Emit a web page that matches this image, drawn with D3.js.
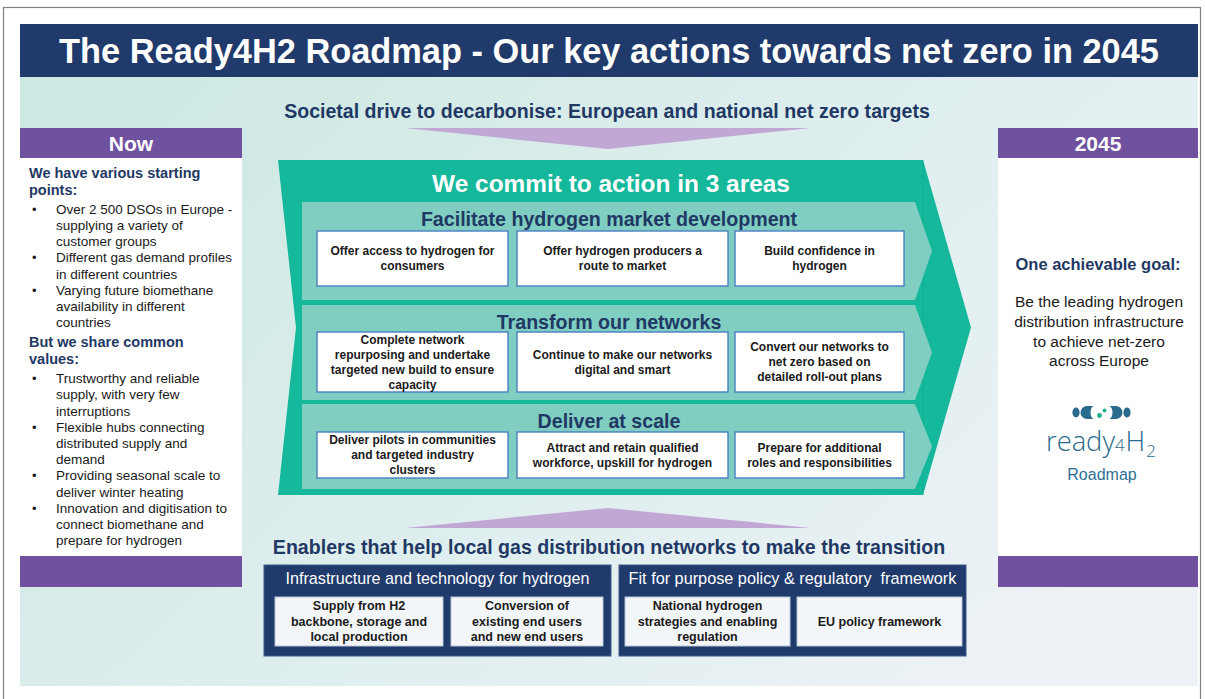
<!DOCTYPE html>
<html><head><meta charset="utf-8">
<script src="https://cdn.jsdelivr.net/npm/d3@7"></script>
<style>html,body{margin:0;padding:0;background:#fff;overflow:hidden}svg{display:block;font-family:"Liberation Sans",Arial,sans-serif}</style>
</head><body><svg id="c" width="1205" height="699"></svg>
<script>
// ---------- content ----------
const title = "The Ready4H2 Roadmap - Our key actions towards net zero in 2045";
const driver = "Societal drive to decarbonise: European and national net zero targets";
const commitment = "We commit to action in 3 areas";
const areas = ["Facilitate hydrogen market development", "Transform our networks", "Deliver at scale"];
const actions = [
  ["Offer access to hydrogen for\nconsumers", "Offer hydrogen producers a\nroute to market", "Build confidence in\nhydrogen"],
  ["Complete network\nrepurposing and undertake\ntargeted new build to ensure\ncapacity", "Continue to make our networks\ndigital and smart", "Convert our networks to\nnet zero based on\ndetailed roll-out plans"],
  ["Deliver pilots in communities\nand targeted industry\nclusters", "Attract and retain qualified\nworkforce, upskill for hydrogen", "Prepare for additional\nroles and responsibilities"]
];
const enablersTitle = "Enablers that help local gas distribution networks to make the transition";
const enablerGroups = ["Infrastructure and technology for hydrogen", "Fit for purpose policy & regulatory  framework"];
const enablerItems = [
  ["Supply from H2\nbackbone, storage and\nlocal production", "Conversion of\nexisting end users\nand new end users"],
  ["National hydrogen\nstrategies and enabling\nregulation", "EU policy framework"]
];
const nowLabel = "Now";
const goalLabel = "2045";
const startHeading = "We have various starting\npoints:";
const startPoints = ["Over 2 500 DSOs in Europe -\nsupplying a variety of\ncustomer groups", "Different gas demand profiles\nin different countries", "Varying future biomethane\navailability in different\ncountries"];
const valuesHeading = "But we share common\nvalues:";
const valuePoints = ["Trustworthy and reliable\nsupply, with very few\ninterruptions", "Flexible hubs connecting\ndistributed supply and\ndemand", "Providing seasonal scale to\ndeliver winter heating", "Innovation and digitisation to\nconnect biomethane and\nprepare for hydrogen"];
const goalHeading = "One achievable goal:";
const goalText = "Be the leading hydrogen\ndistribution infrastructure\nto achieve net-zero\nacross Europe";
const logoParts = ["ready", "4", "H", "2"];
const logoSub = "Roadmap";

// ---------- style ----------
const NAVY = "#1f3a6b", NAVYTXT = "#1f3864", PURPLE = "#7051a0", LILAC = "#c1a8d4",
      TEAL = "#15b89b", BAND = "#7fcec1", BOXBORDER = "#4a7fc0", DARK = "#1a1a1a";

const svg = d3.select("#c");
const defs = svg.append("defs");
const grad = defs.append("linearGradient").attr("id", "bg").attr("x1", "0").attr("y1", "0.2").attr("x2", "1").attr("y2", "0.8");
grad.append("stop").attr("offset", "0").attr("stop-color", "#cce8e2");
grad.append("stop").attr("offset", "0.5").attr("stop-color", "#deeeee");
grad.append("stop").attr("offset", "1").attr("stop-color", "#eef2f7");

function block(g, str, x, cy, o) {
  const lines = str.split("\n");
  const lh = o.lh || o.size * 1.25;
  const t = g.append("text")
    .attr("font-size", o.size)
    .attr("font-weight", o.weight || "normal")
    .attr("fill", o.fill || DARK)
    .attr("text-anchor", o.anchor || "middle")
    .style("white-space", "pre")
    .style("font-family", o.family || null);
  lines.forEach((l, i) => t.append("tspan")
    .attr("x", x)
    .attr("y", cy + (i - (lines.length - 1) / 2) * lh)
    .attr("dy", "0.35em").text(l));
  if (o.fit) {
    const w = t.node().getBBox().width;
    t.attr("font-size", o.size * o.fit / w);
  }
  return t;
}

// page frame
svg.append("rect").attr("x", 3.5).attr("y", 7.5).attr("width", 1197).attr("height", 720)
  .attr("fill", "#fff").attr("stroke", "#808080").attr("stroke-width", 1.2);
// main background
svg.append("rect").attr("x", 20).attr("y", 24).attr("width", 1178).attr("height", 662).attr("fill", "url(#bg)");
// title bar
svg.append("rect").attr("x", 20).attr("y", 24).attr("width", 1178).attr("height", 53).attr("fill", NAVY);
block(svg, title, 609, 51, {size: 34, weight: "bold", fill: "#fff", fit: 1100});

// driver text + down arrow
block(svg, driver, 607, 111, {size: 19, weight: "bold", fill: NAVYTXT, fit: 646});
const xMid = d3.scaleLinear().domain([0, 1]).range([405, 811]);
svg.append("path").attr("fill", LILAC)
  .attr("d", d3.line()([[xMid(0), 128], [xMid(1), 128], [xMid(0.5), 149]]) + "Z");

// ---------- big teal arrow ----------
const arrow = {x0: 278, x1: 923, tip: 971, y0: 160, y1: 495, notch: 296};
const ym = (arrow.y0 + arrow.y1) / 2;
svg.append("path").attr("fill", TEAL).attr("d", d3.line()([
  [arrow.x0, arrow.y0], [arrow.x1, arrow.y0], [arrow.tip, ym], [arrow.x1, arrow.y1],
  [arrow.x0, arrow.y1], [arrow.notch, ym]]) + "Z");
svg.append("line").attr("x1", arrow.x1).attr("x2", arrow.x1).attr("y1", arrow.y0).attr("y2", arrow.y1)
  .attr("stroke", "#0fa78b").attr("stroke-width", 1).attr("opacity", 0.6);
block(svg, commitment, 611, 183, {size: 24, weight: "bold", fill: "#fff", fit: 358});

// area bands
const bandTop = [202, 305, 404], bandBot = [300, 400, 489];
const headY = [219, 322, 421], headW = [377, 225, 143];
const boxTop = [231, 332, 432], boxBot = [286, 392, 478];
const colX0 = [317, 517, 735], colX1 = [508, 728, 904];
const bandX0 = 302, bandX1 = 915, bandTip = 932;
areas.forEach((a, i) => {
  const g = svg.append("g");
  const m = (bandTop[i] + bandBot[i]) / 2;
  g.append("path").attr("fill", BAND).attr("d", d3.line()([
    [bandX0, bandTop[i]], [bandX1, bandTop[i]], [bandTip, m], [bandX1, bandBot[i]], [bandX0, bandBot[i]]]) + "Z");
  block(g, a, 609, headY[i], {size: 19.5, weight: "bold", fill: NAVYTXT, fit: headW[i]});
  actions[i].forEach((t, j) => {
    g.append("rect").attr("x", colX0[j]).attr("y", boxTop[i])
      .attr("width", colX1[j] - colX0[j]).attr("height", boxBot[i] - boxTop[i])
      .attr("fill", "#fff").attr("stroke", BOXBORDER).attr("stroke-width", 1.4);
    block(g, t, (colX0[j] + colX1[j]) / 2, (boxTop[i] + boxBot[i]) / 2, {size: 12, weight: "bold", fill: DARK, lh: 15});
  });
});

// up arrow + enablers
svg.append("path").attr("fill", LILAC)
  .attr("d", d3.line()([[xMid(0), 528], [xMid(1), 528], [xMid(0.5), 508]]) + "Z");
block(svg, enablersTitle, 609, 547, {size: 19.5, weight: "bold", fill: NAVYTXT, fit: 673});
const grpX0 = [264, 619], grpX1 = [611, 966];
const itemX0 = [[275, 451], [625, 797]], itemX1 = [[443, 603], [790, 962]];
enablerGroups.forEach((gname, i) => {
  const g = svg.append("g");
  g.append("rect").attr("x", grpX0[i]).attr("y", 565).attr("width", grpX1[i] - grpX0[i]).attr("height", 91)
    .attr("fill", NAVY).attr("stroke", "#3b5a8a").attr("stroke-width", 1);
  block(g, gname, (grpX0[i] + grpX1[i]) / 2, 578, {size: 14.5, fill: "#fff", fit: i === 0 ? 304 : 329});
  enablerItems[i].forEach((t, j) => {
    g.append("rect").attr("x", itemX0[i][j]).attr("y", 597).attr("width", itemX1[i][j] - itemX0[i][j]).attr("height", 49)
      .attr("fill", "#f3f6f9").attr("stroke", "#b7c6d8").attr("stroke-width", 1);
    block(g, t, (itemX0[i][j] + itemX1[i][j]) / 2, 621.5, {size: 12.5, weight: "bold", fill: DARK, lh: 15.5});
  });
});

// ---------- left column ----------
const left = svg.append("g");
left.append("rect").attr("x", 20).attr("y", 158).attr("width", 222).attr("height", 398).attr("fill", "#fff");
left.append("rect").attr("x", 20).attr("y", 128).attr("width", 222).attr("height", 30).attr("fill", PURPLE);
left.append("rect").attr("x", 20).attr("y", 556).attr("width", 222).attr("height", 31).attr("fill", PURPLE);
block(left, nowLabel, 131, 144, {size: 21, weight: "bold", fill: "#fff"});

let yc = 173;
function section(head, points) {
  const hl = head.split("\n");
  block(left, head, 29, yc + (hl.length - 1) * 17 / 2, {size: 14.5, weight: "bold", fill: NAVYTXT, anchor: "start", lh: 17});
  yc += (hl.length - 1) * 17 + 19;
  points.forEach(p => {
    const pl = p.split("\n");
    const c = yc + (pl.length - 1) * 16.2 / 2;
    block(left, "•", 32, yc, {size: 13, fill: DARK, anchor: "start"});
    block(left, p, 56, c, {size: 13.5, fill: DARK, anchor: "start", lh: 16.2});
    yc += pl.length * 16.2;
  });
  yc += 20 - 16.2;
}
section(startHeading, startPoints);
section(valuesHeading, valuePoints);

// ---------- right column ----------
const right = svg.append("g");
right.append("rect").attr("x", 998).attr("y", 158).attr("width", 200).attr("height", 398).attr("fill", "#fff");
right.append("rect").attr("x", 998).attr("y", 128).attr("width", 200).attr("height", 30).attr("fill", PURPLE);
right.append("rect").attr("x", 998).attr("y", 556).attr("width", 200).attr("height", 31).attr("fill", PURPLE);
block(right, goalLabel, 1098, 144, {size: 21, weight: "bold", fill: "#fff"});
block(right, goalHeading, 1098, 264, {size: 16.5, weight: "bold", fill: NAVYTXT});
block(right, goalText, 1099, 331.5, {size: 15.5, fill: DARK, lh: 19.7});

// logo
const LOGO = "#2a6a8c", LOGOG = "#1fb08f";
const lg = right.append("g");
lg.append("ellipse").attr("cx", 1076).attr("cy", 412.5).attr("rx", 3.6).attr("ry", 5).attr("fill", LOGO);
lg.append("path").attr("fill", LOGO).attr("d", "M1094,406 L1087,406 A6.5,6.5 0 0 0 1087,419 L1094,419 A3.5,6.5 0 0 1 1094,406 Z");
lg.append("path").attr("fill", LOGO).attr("d", "M1109,406 L1116,406 A6.5,6.5 0 0 1 1116,419 L1109,419 A3.5,6.5 0 0 0 1109,406 Z");
lg.append("ellipse").attr("cx", 1127).attr("cy", 412.5).attr("rx", 3.6).attr("ry", 5).attr("fill", LOGO);
lg.append("circle").attr("cx", 1099.5).attr("cy", 415.5).attr("r", 2.4).attr("fill", LOGOG);
lg.append("circle").attr("cx", 1104.5).attr("cy", 410.5).attr("r", 1.9).attr("fill", LOGOG);
const logoRel = [1, 0.62, 1, 0.62], logoDy = [0, 0, 0, 6], logoDx = [0, 0, 1, 1];
const word = lg.append("text").attr("x", 1046).attr("y", 451).attr("font-size", 27)
  .attr("fill", LOGO).style("font-family", "'Open Sans', 'DejaVu Sans', sans-serif").attr("font-weight", 350);
logoParts.forEach((s, i) => word.append("tspan").attr("font-size", (logoRel[i]) + "em")
  .attr("dy", i === 3 ? logoDy[3] : 0).attr("dx", logoDx[i]).text(s));
const ww = word.node().getBBox().width;
word.attr("font-size", 27 * 110 / ww);
block(right, logoSub, 1102, 474, {size: 16, fill: "#2e6f94"});
</script></body></html>
